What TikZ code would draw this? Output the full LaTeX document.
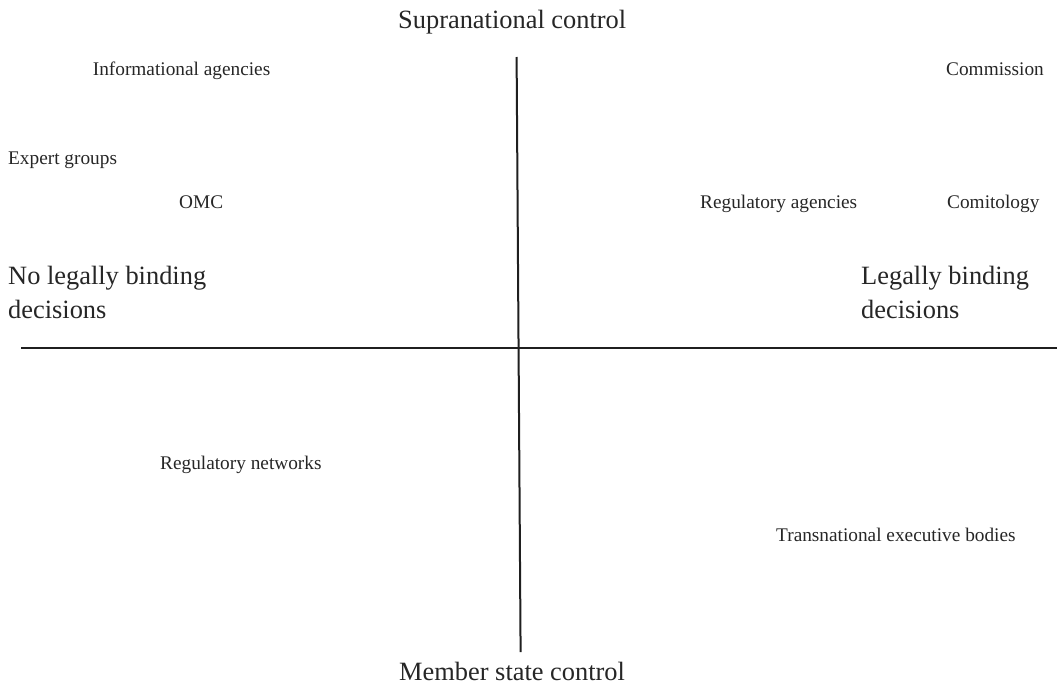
\documentclass[tikz,border=0pt]{standalone}
\usepackage{fontspec}
\setmainfont{Liberation Serif}
\begin{document}
\begin{tikzpicture}[x=1pt,y=-1pt,
  small/.style={anchor=base west,inner sep=0pt,font=\fontsize{19.3}{23}\selectfont,text=black!85},
  big/.style={anchor=base west,inner sep=0pt,font=\fontsize{26.4}{33.5}\selectfont,text=black!85,align=left},
  axis/.style={line width=2pt,draw=black!88}]
\useasboundingbox (0,0) rectangle (1057,685);
\coordinate (vt) at (516.6,57);
\coordinate (vb) at (520.6,652);
\coordinate (hl) at (21,347.5);
\coordinate (hr) at (1057,347.5);
\draw[axis] (vt) -- (vb);
\draw[axis] (hl) -- (hr);
\node[big] (sup) at (398,29) {Supranational control};
\node[big] (mem) at (399,680) {Member state control};
\node[small] (inf) at (92.7,75.7) {Informational agencies};
\node[small] (com) at (946,75.7) {Commission};
\node[small] (exp) at (8,164.3) {Expert groups};
\node[small] (omc) at (179,208.3) {OMC};
\node[small] (rega) at (700,208.3) {Regulatory agencies};
\node[small] (comi) at (947,208.3) {Comitology};
\node[big] (nlb) at (8,318) {No legally binding\\decisions};
\node[big] (lb) at (861,318) {Legally binding\\decisions};
\node[small] (regn) at (160,469.5) {Regulatory networks};
\node[small] (trn) at (776,541.5) {Transnational executive bodies};
\end{tikzpicture}
\end{document}
